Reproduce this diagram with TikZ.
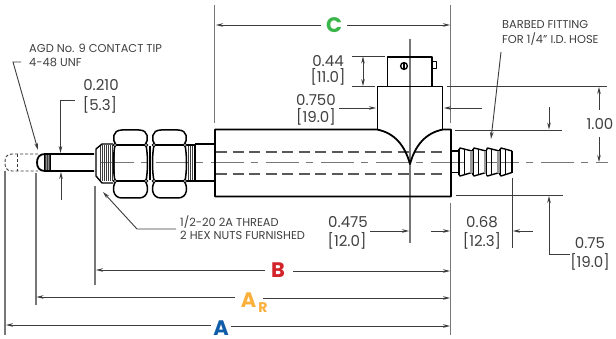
\documentclass[tikz,border=0pt]{standalone}
\usepackage{fontspec}
\setmainfont{Poppins}
\usetikzlibrary{arrows.meta}
\definecolor{dimc}{HTML}{3C3C3C}
\definecolor{cenc}{HTML}{777777}
\definecolor{cgreen}{HTML}{39B54A}
\definecolor{cred}{HTML}{D2232A}
\definecolor{corange}{HTML}{FBB03B}
\definecolor{cblue}{HTML}{0F5CA8}
\tikzset{
  obj/.style={draw=black,line width=1.8pt,line join=round},
  thin obj/.style={draw=black,line width=0.9pt},
  dimline/.style={draw=dimc,line width=0.9pt},
  extline/.style={draw=cenc,line width=1.2pt},
  dimarrow/.style={dimline,-{Stealth[length=7pt,width=3.6pt]}},
  centerline/.style={draw=cenc,line width=1.1pt,dash pattern=on 33pt off 7pt on 7pt off 8pt},
  hidden/.style={draw=black!65,line width=1.3pt,dash pattern=on 11pt off 5.5pt},
  ghost/.style={draw=dimc,line width=0.9pt,dash pattern=on 3pt off 2pt},
  dimtext/.style={font=\fontsize{15}{15}\selectfont,text=black!75,inner sep=0pt,anchor=center},
  note/.style={font=\fontsize{11.4}{11.4}\selectfont,text=black!75,inner sep=0pt,anchor=west},
  letter/.style={font=\fontsize{21}{21}\selectfont\bfseries,inner sep=0pt,anchor=center}
}
\begin{document}
\begin{tikzpicture}[x=1pt,y=-1pt]
\useasboundingbox (0,0) rectangle (616,339);
\fill[white] (0,0) rectangle (616,339);

% center lines
\draw[centerline] (101,162.5) -- (608,162.5);
\draw[extline] (410,39) -- (410,243);

% extension lines
\draw[extline] (214.5,5) -- (214.5,123);
\draw[extline] (450.5,5) -- (450.5,123);
\draw[extline] (450.5,203) -- (450.5,335);
\draw[extline] (5,171) -- (5,335);
\draw[extline] (36,173) -- (36,305);
\draw[extline] (95,186) -- (95,285);

% ghost tip
\draw[ghost] (38,154) -- (12,154) .. controls (6,154) and (5,158) .. (5,162.5) .. controls (5,167) and (6,171) .. (12,171) -- (38,171);
\draw[ghost] (17,154) -- (17,171);

% probe rod
\draw[obj] (94,154) -- (45,154) .. controls (39,154) and (37,158) .. (37,162.5) .. controls (37,167) and (39,171) .. (45,171) -- (94,171);
\fill[black!45] (44.5,155) rectangle (50,170);
\foreach \x in {45,47,49} \draw[dimc,line width=0.6pt] (\x,155) -- (\x,170);
\draw[black,line width=0.9pt] (44.5,154) -- (44.5,171) (50,154) -- (50,171);

% threads
\foreach \x in {100,102,...,114} \draw[dimc,line width=1pt] (\x,145) -- (\x,181);
\foreach \x in {188,190,...,194} \draw[dimc,line width=1pt] (\x,145) -- (\x,181);
\draw[obj,line width=1.4pt] (113,144) -- (102,144) -- (96,149) -- (96,176) -- (102,183) -- (113,183);
\draw[obj,line width=1.4pt] (187,145) -- (195,145) (187,181) -- (195,181);

% nuts
\foreach \x in {113,152}{
  \begin{scope}[shift={(\x,0)}]
    \draw[obj,line width=1.5pt] (3,145) .. controls (-1,140) and (-1,130) .. (9,130) -- (26,130) .. controls (36,130) and (36,140) .. (32,145);
    \draw[obj,line width=1.5pt] (3,181) .. controls (-1,186) and (-1,198) .. (9,198) -- (26,198) .. controls (36,198) and (36,186) .. (32,181);
    \draw[obj] (2,145) -- (33,145) (2,181) -- (33,181);
    \draw[obj,line width=1.5pt] (2,145) .. controls (0,155) and (0,171) .. (2,181);
    \draw[obj,line width=1.5pt] (33,145) .. controls (35,155) and (35,171) .. (33,181);
    \foreach \p in {(2,145),(33,145),(2,181),(33,181)} \draw[thin obj,fill=white] \p circle (1.8);
  \end{scope}
}
\foreach \x in {149,150.5} \draw[black,line width=0.9pt] (\x,146) -- (\x,180);

% sleeve
\draw[obj] (195,144) -- (215,144) (195,181) -- (215,181) (195,144) -- (195,181);

% body
\draw[hidden] (216,152) -- (443,152);
\draw[hidden] (216,174) -- (443,174);
\draw[obj] (215,129.5) -- (377,129.5) .. controls (395,133) and (405,146) .. (410,164) .. controls (415,146) and (425,133) .. (443,129.5) -- (451,129.5) -- (451,196.5) -- (215,196.5) -- cycle;
% stem
\draw[obj] (377.5,129.5) -- (377.5,86.5) -- (442.5,86.5) -- (442.5,129.5);
% connector
\draw[obj] (387.5,86.5) -- (387.5,57) -- (432,57) -- (432,86.5);
\draw[obj,line width=1.1pt] (432.5,61.5) rectangle (436.5,68.5);
\draw[thin obj,line width=1.4pt] (404,66) circle (3.4);
\draw[thin obj,line width=1.1pt] (404,62.5) -- (404,69.5);

% barbed fitting
\draw[obj] (451,151) -- (459,151) (451,172.5) -- (459,172.5);
\foreach \x/\l in {459/13,473/13,486.5/13,500/12}{
  \draw[obj,line width=1.4pt] (\x,150) -- ++(1,-2) -- (\x+\l,151) (\x,175) -- ++(1,1) -- (\x+\l,172.5);
  \draw[obj,line width=1.4pt] (\x,149) -- (\x,175);
  \draw[thin obj] (\x+5,149) -- (\x+5,175);
}
\foreach \x in {470,483.5,497} \fill[black!40] (\x,151) rectangle (\x+2.5,173);
\draw[obj,line width=1.4pt] (512,151) -- (512,173);

% texts
\node[note] (tipa) at (29,48) {AGD No. 9 CONTACT TIP};
\node[note] (tipb) at (29,62) {4-48 UNF};
\node[note] (thra) at (180,222) {1/2-20 2A THREAD};
\node[note] (thrb) at (180,235) {2 HEX NUTS FURNISHED};
\node[note] (barba) at (502,25) {BARBED FITTING};
\node[note] (barbb) at (502,39) {FOR 1/4" I.D. HOSE};
\node[dimtext] (d210) at (101,85) {0.210};
\node[dimtext] (d53) at (100,105) {[5.3]};
\node[dimtext] (d44) at (328,61.5) {0.44};
\node[dimtext] (d110) at (328,77) {[11.0]};
\node[dimtext] (d750) at (316,100) {0.750};
\node[dimtext] (d190) at (316,117) {[19.0]};
\node[dimtext] (d475) at (348,222) {0.475};
\node[dimtext] (d120) at (347,241) {[12.0]};
\node[dimtext] (d68) at (482,222) {0.68};
\node[dimtext] (d123) at (482,241) {[12.3]};
\node[dimtext] (d100) at (600,124) {1.00};
\node[dimtext] (d75) at (590,243) {0.75};
\node[dimtext] (d190b) at (590,262) {[19.0]};
\node[letter,text=cgreen] (C) at (334,25) {C};
\node[letter,text=cred] (B) at (278,270) {B};
\node[letter,text=corange] (AR) at (248.5,300.5) {A};
\node[font=\fontsize{14}{14}\selectfont\bfseries,text=corange,inner sep=0pt] (ARs) at (263,308) {R};
\node[letter,text=cblue] (A) at (221,328) {A};

% leaders
\draw[dimarrow] (21,62) -- (13,62) -- (38,150);
\draw[dimarrow] (75,100) -- (60.5,100) -- (60.5,153);
\draw[dimarrow] (61,200) -- (61,172);
\draw[dimarrow] (176,229) -- (137,229) -- (103,192);
\draw[dimarrow] (501,52) -- (491,139);

% dimensions
\draw[dimarrow] (C.west) ++(-5,0) -- (216,25);
\draw[dimarrow] (C.east) ++(5,0) -- (450,25);
\draw[dimarrow] (B.west) ++(-6,0) -- (96,270);
\draw[dimarrow] (B.east) ++(8,1) -- (450,271);
\draw[dimarrow] (AR.west) ++(-6,-3.5) -- (36.5,297);
\draw[dimarrow] (AR.east) ++(7,-2.5) -- (450,298);
\draw[dimarrow] (A.west) ++(-2,-3) -- (6,325);
\draw[dimarrow] (A.east) ++(2,-2) -- (450,326);

\draw[dimline] (352,56) -- (385,56) (352,86) -- (375,86);
\draw[dimarrow,{Stealth[length=7pt,width=3.6pt]}-{Stealth[length=7pt,width=3.6pt]}] (363,56.5) -- (363,86);
\draw[dimarrow] (339,108) -- (376,108);
\draw[dimarrow] (482,108) -- (444,108);
\draw[dimarrow] (370,231) -- (409,231);
\draw[dimarrow] (431,231) -- (450,231);
\draw[dimline] (512,178) -- (512,248);
\draw[dimarrow] (533,231) -- (513,231);
\draw[dimline] (447,86) -- (607,86);
\draw[dimarrow] (599,110) -- (599,87);
\draw[dimarrow] (599,137) -- (599,162);
\draw[dimline] (455,130) -- (562,130) (456,195) -- (563,195);
\draw[dimarrow] (549,107) -- (549,129.5);
\draw[dimarrow] (570,254) -- (549,254) -- (549,196);
\end{tikzpicture}
\end{document}
